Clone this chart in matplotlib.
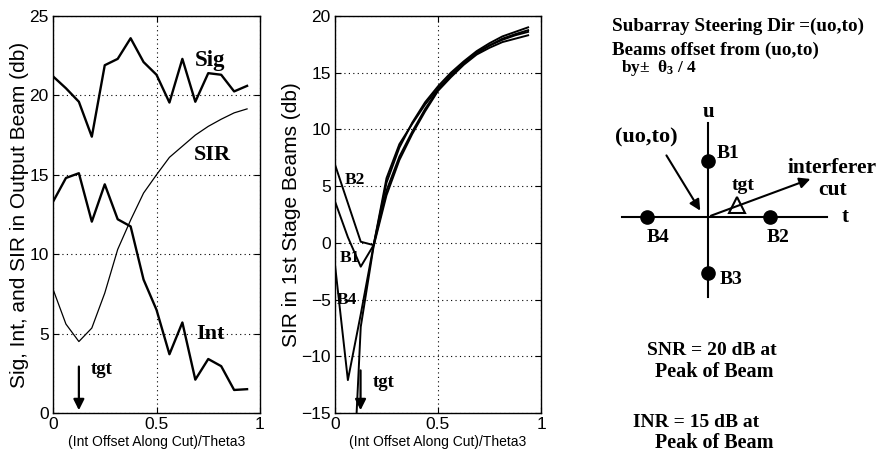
import numpy as np
import matplotlib
matplotlib.use("Agg")
import matplotlib.pyplot as plt

plt.rcParams['mathtext.fontset'] = 'custom'
plt.rcParams['mathtext.rm'] = 'Liberation Serif:bold'
plt.rcParams['mathtext.it'] = 'Liberation Serif:bold'
plt.rcParams['mathtext.bf'] = 'Liberation Serif:bold'

# ---------------- data ----------------
x_offset = [0, 0.0625, 0.125, 0.1875, 0.25, 0.3125, 0.375, 0.4375, 0.5,
            0.5625, 0.625, 0.6875, 0.75, 0.8125, 0.875, 0.9375]

sig = [21.2, 20.45, 19.6, 17.4, 21.9, 22.3, 23.6, 22.1, 21.3,
       19.55, 22.3, 19.6, 21.4, 21.3, 20.25, 20.6]
intf = [13.3, 14.8, 15.1, 12.05, 14.4, 12.2, 11.75, 8.4, 6.5,
        3.7, 5.7, 2.1, 3.4, 2.95, 1.45, 1.5]
sir = [7.8, 5.6, 4.5, 5.35, 7.55, 10.3, 12.15, 13.85, 15.0,
       16.1, 16.8, 17.5, 18.05, 18.5, 18.9, 19.15]

b1 = [3.65, 0.5, -2.1, -0.2, 5.3, 8.4, 10.6, 12.4, 13.8,
      15.0, 16.0, 16.9, 17.6, 18.2, 18.6, 19.0]
b2 = [6.9, 3.5, 0.1, -0.2, 5.7, 8.7, 10.5, 12.2, 13.6,
      14.8, 15.8, 16.7, 17.4, 18.0, 18.4, 18.75]
b3 = [-22.0, -31.0, -7.4, -0.3, 4.2, 7.3, 9.6, 11.6, 13.4,
      14.6, 15.7, 16.6, 17.2, 17.7, 18.0, 18.3]
b4 = [-1.95, -12.1, -6.3, -0.2, 4.6, 7.6, 9.8, 11.8, 13.5,
      14.8, 15.9, 16.8, 17.4, 17.9, 18.3, 18.6]

tgt_x = 0.125
xticks = [0, 0.5, 1]
yticks_left = [0, 5, 10, 15, 20, 25]
yticks_mid = [-15, -10, -5, 0, 5, 10, 15, 20]

# beam positions in units of theta3/4 (t, u)
beam_names = ['B1', 'B2', 'B3', 'B4']
beam_t = [0, 1, 0, -1]
beam_u = [1, 0, -1, 0]

# ---------------- style ----------------
W, H = 881, 454
fig = plt.figure(figsize=(W / 100, H / 100), dpi=100)
sans = 'Liberation Sans'
serif = 'Liberation Serif'

def fpos(x0, x1, y0, y1):
    return [x0 / W, 1 - y1 / H, (x1 - x0) / W, (y1 - y0) / H]

def style(ax, yt, ylim):
    ax.set_xlim(0, 1)
    ax.set_ylim(*ylim)
    ax.set_xticks(xticks)
    ax.set_xticklabels(['0', '0.5', '1'])
    ax.set_yticks(yt)
    ax.set_yticklabels([str(v).replace('-', '\u2212') for v in yt])
    ax.tick_params(direction='in', top=True, right=True, length=4,
                   labelsize=12.5, width=0.8, pad=3)
    for lab in ax.get_xticklabels() + ax.get_yticklabels():
        lab.set_family(sans)
    ax.grid(True, linestyle=(0, (1, 3)), color='k', linewidth=0.8)
    for s in ax.spines.values():
        s.set_linewidth(1.0)
    ax.set_xlabel('(Int Offset Along Cut)/Theta3', family=sans, fontsize=10, labelpad=2)

tfont = dict(family=serif, weight='bold', color='k')

# ---------------- left plot ----------------
ax1 = fig.add_axes(fpos(53, 260, 16, 413))
ax1.plot(x_offset, sig, color='k', lw=1.7)
ax1.plot(x_offset, intf, color='k', lw=1.7)
ax1.plot(x_offset, sir, color='k', lw=0.9)
style(ax1, yticks_left, (0, 25))
ax1.set_ylabel('Sig, Int, and SIR in Output Beam (db)', family=sans, fontsize=15, labelpad=0)
ax1.text(0.76, 22.2, 'Sig', fontsize=16.5, ha='center', va='center', **tfont)
ax1.text(0.77, 16.25, 'SIR', fontsize=16, ha='center', va='center', **tfont)
ax1.text(0.76, 5.0, 'Int', fontsize=16, ha='center', va='center', **tfont)
ax1.annotate('', xy=(tgt_x, 0), xytext=(tgt_x, 3.1),
             arrowprops=dict(arrowstyle='-|>', color='k', lw=1.6, mutation_scale=16))
ax1.text(0.18, 2.75, 'tgt', fontsize=13.5, ha='left', va='center', **tfont)

# ---------------- middle plot ----------------
ax2 = fig.add_axes(fpos(335, 541, 16, 413))
for b in (b1, b2, b3, b4):
    ax2.plot(x_offset, b, color='k', lw=1.4)
style(ax2, yticks_mid, (-15, 20))
ax2.set_ylabel('SIR in 1st Stage Beams (db)', family=sans, fontsize=15, labelpad=0)
ax2.text(0.097, 5.55, 'B2', fontsize=12.5, ha='center', va='center', **tfont)
ax2.text(0.073, -1.35, 'B1', fontsize=12.5, ha='center', va='center', **tfont)
ax2.text(0.056, -5.0, 'B4', fontsize=12.5, ha='center', va='center', **tfont)
ax2.annotate('', xy=(0.124, -15), xytext=(0.124, -11.0),
             arrowprops=dict(arrowstyle='-|>', color='k', lw=1.6, mutation_scale=16))
ax2.text(0.185, -12.3, 'tgt', fontsize=13.5, ha='left', va='center', **tfont)

# ---------------- diagram ----------------
ox, oy, sx, sy = 708.3, 216.7, 61.7, 56.0
ax3 = fig.add_axes(fpos(600, 881, 0, 454))
ax3.set_xlim((600 - ox) / sx, (881 - ox) / sx)
ax3.set_ylim(-(454 - oy) / sy, oy / sy)
ax3.axis('off')

def py(v):  # pixel row -> diagram units
    return (oy - v) / sy

def px(v):
    return (v - ox) / sx

ax3.plot([0, 0], [-1.434, 1.673], color='k', lw=1.5)
ax3.plot([-1.404, 1.919], [0, 0], color='k', lw=1.5)
ax3.plot(beam_t, beam_u, 'o', color='k', ms=9.5, ls='none')
ax3.text(0, 1.87, 'u', fontsize=15, ha='center', va='center', **tfont)
ax3.text(2.215, 0, 't', fontsize=15, ha='center', va='center', **tfont)
lab_pos = {'B1': (0.135, 1.137, 'left'), 'B2': (1.126, -0.38, 'center'),
           'B3': (0.19, -1.13, 'left'), 'B4': (-0.815, -0.38, 'center')}
for n in beam_names:
    lx, ly, ha = lab_pos[n]
    ax3.text(lx, ly, n, fontsize=14, ha=ha, va='center', **tfont)
ax3.text(-1.01, 1.423, '(uo,to)', fontsize=16, ha='center', va='center', **tfont)
ax3.annotate('', xy=(-0.107, 0.066), xytext=(-0.702, 1.137),
             arrowprops=dict(arrowstyle='-|>', color='k', lw=1.5, mutation_scale=16))
ax3.annotate('', xy=(1.697, 0.691), xytext=(0, 0),
             arrowprops=dict(arrowstyle='-|>', color='k', lw=1.5, mutation_scale=16))
ax3.plot([0.46], [0.209], marker='^', ms=11, mfc='white', mec='k', mew=1.5, ls='none')
ax3.text(0.562, 0.56, 'tgt', fontsize=14, ha='center', va='center', **tfont)
ax3.text(2.0, 0.87, 'interferer', fontsize=15.5, ha='center', va='center', **tfont)
ax3.text(2.02, 0.477, 'cut', fontsize=15.5, ha='center', va='center', **tfont)

ax3.text(px(612), py(31), 'Subarray Steering Dir =(uo,to)', fontsize=13.8,
         ha='left', va='baseline', **tfont)
ax3.text(px(612), py(55), 'Beams offset from (uo,to)', fontsize=13.8,
         ha='left', va='baseline', **tfont)
ax3.text(px(621), py(72), r'by$\pm$  $\theta_3$ / 4', fontsize=12.5,
         ha='left', va='baseline', **tfont)
ax3.text(px(647), py(355), 'SNR = 20 dB at', fontsize=14, ha='left', va='baseline', **tfont)
ax3.text(px(655), py(377), 'Peak of Beam', fontsize=14.5, ha='left', va='baseline', **tfont)
ax3.text(px(633), py(427), 'INR = 15 dB at', fontsize=14, ha='left', va='baseline', **tfont)
ax3.text(px(655), py(448), 'Peak of Beam', fontsize=14.5, ha='left', va='baseline', **tfont)

fig.savefig('out.png', dpi=100)
